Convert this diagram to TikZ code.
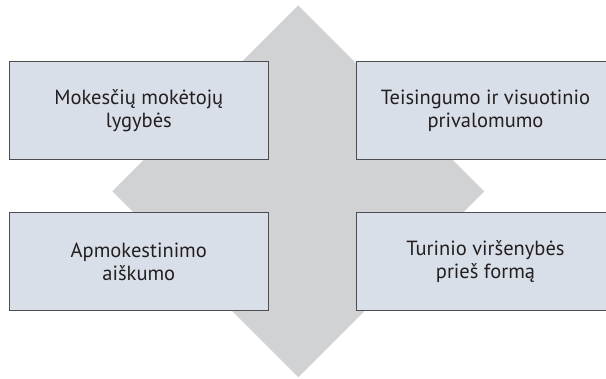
\documentclass[tikz,border=0pt]{standalone}
\usepackage{fontspec}
\setmainfont{PT Sans}
\usetikzlibrary{shapes.geometric}
\definecolor{rombopilka}{HTML}{D1D2D4}
\definecolor{langomelsva}{HTML}{D9DFE8}
\definecolor{remopilka}{HTML}{4D4D4F}
\definecolor{raidziu}{HTML}{231F20}
\begin{document}
\begin{tikzpicture}[x=1pt,y=-1pt,
		langelis/.style={draw=remopilka,line width=1pt,fill=langomelsva,
			minimum width=259pt,minimum height=97.5pt,inner sep=0pt,
			align=center,text=raidziu,font=\fontsize{20.5}{23}\selectfont},
		pagrindas/.style={diamond,fill=rombopilka,minimum width=372pt,
			minimum height=372pt,inner sep=0pt}]
		\useasboundingbox (0,0) rectangle (606,379);
		\node[pagrindas] (rombas) at (298.3,191.3) {};
		\node[langelis] (lygybe) at (138.8,110.4) {Mokesčių mokėtojų\\lygybės};
		\node[langelis] (teisingumas) at (485.5,110.4) {Teisingumo ir visuotinio\\privalomumo};
		\node[langelis] (aiskumas) at (138.8,261.6) {Apmokestinimo\\aiškumo};
		\node[langelis] (turinys) at (485.5,261.6) {Turinio viršenybės\\prieš formą};
	\end{tikzpicture}
\end{document}
